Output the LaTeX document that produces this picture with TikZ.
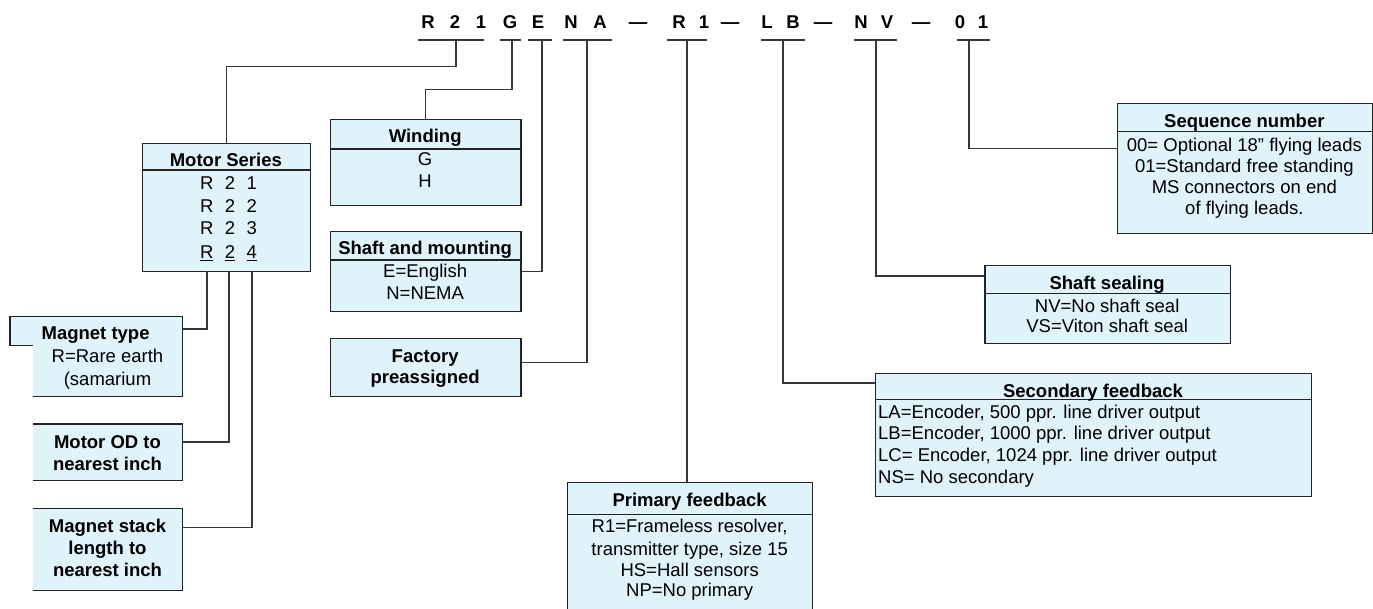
\documentclass[tikz,border=0pt]{standalone}
\usepackage{fontspec}
\setmainfont{Liberation Sans}
\usetikzlibrary{calc}
\definecolor{boxfill}{RGB}{224,242,250}
\definecolor{linec}{RGB}{55,55,55}
\definecolor{edgec}{RGB}{35,35,35}
\begin{document}
\begin{tikzpicture}[x=1pt,y=-1pt,
  boxbg/.style={fill=boxfill, draw=edgec, line width=1.2pt, inner sep=0pt, anchor=north west},
  boxfillonly/.style={fill=boxfill, draw=none, inner sep=0pt, anchor=north west},
  edge/.style={draw=edgec, line width=1.2pt},
  txt/.style={anchor=base, inner sep=0pt, font=\fontsize{18.5}{22}\selectfont},
  hdr/.style={anchor=base, inner sep=0pt, font=\fontsize{18.5}{22}\selectfont\bfseries},
  codech/.style={anchor=base, inner sep=0pt, font=\fontsize{18.5}{22}\selectfont\bfseries},
  conn/.style={draw=linec, line width=1.2pt},
  uline/.style={draw=linec, line width=1.2pt}]
\useasboundingbox (0,0) rectangle (1373,609);
\fill[white] (0,0) rectangle (1373,609);

% ---- code line ----
\node[codech] (c1) at (428,28.3) {R};
\node[codech] (c2) at (455,28.3) {2};
\node[codech] (c3) at (481,28.3) {1};
\node[codech] (c4) at (510,28.3) {G};
\node[codech] (c5) at (538,28.3) {E};
\node[codech] (c6) at (571,28.3) {N};
\node[codech] (c7) at (600,28.3) {A};
\node[codech] (d1) at (638,28.3) {—};
\node[codech] (c8) at (679,28.3) {R};
\node[codech] (c9) at (704,28.3) {1};
\node[codech] (d2) at (730,28.3) {—};
\node[codech] (c10) at (767,28.3) {L};
\node[codech] (c11) at (793,28.3) {B};
\node[codech] (d3) at (823,28.3) {—};
\node[codech] (c12) at (861,28.3) {N};
\node[codech] (c13) at (887,28.3) {V};
\node[codech] (d4) at (921,28.3) {—};
\node[codech] (c14) at (960,28.3) {0};
\node[codech] (c15) at (983,28.3) {1};

% underlines
\draw[uline] (418,40) -- (484,40);
\draw[uline] (500,40) -- (521,40);
\draw[uline] (528,40) -- (552,40);
\draw[uline] (563,40) -- (612,40);
\draw[uline] (667,40) -- (707,40);
\draw[uline] (761,40) -- (805,40);
\draw[uline] (854,40) -- (897,40);
\draw[uline] (957,40) -- (990,40);

\coordinate (t1) at (456,40);
\coordinate (t2) at (512,40);
\coordinate (t3) at (542,40);
\coordinate (t4) at (587,40);
\coordinate (t5) at (687,40);
\coordinate (t6) at (783,40);
\coordinate (t7) at (876,40);
\coordinate (t8) at (969,40);

% ---- Motor Series ----
\node[boxbg, minimum width=168.3pt, minimum height=127.7pt] (ms) at (141.7,143.3) {};
\draw[edge] (141.7,170) -- (310,170);
\node[hdr] (msh) at (225.85,167) {Motor Series};
\node[txt] (ms11) at (206.7,189.5) {R};
\node[txt] (ms12) at (230,189.5) {2};
\node[txt] (ms13) at (251.7,189.5) {1};
\node[txt] (ms21) at (206.7,212.5) {R};
\node[txt] (ms22) at (230,212.5) {2};
\node[txt] (ms23) at (251.7,212.5) {2};
\node[txt] (ms31) at (206.7,234.5) {R};
\node[txt] (ms32) at (230,234.5) {2};
\node[txt] (ms33) at (251.7,234.5) {3};
\node[txt] (ms41) at (206.7,258.5) {\underline{R}};
\node[txt] (ms42) at (230,258.5) {\underline{2}};
\node[txt] (ms43) at (251.7,258.5) {\underline{4}};
\coordinate (msb1) at (207,271);
\coordinate (msb2) at (229,271);
\coordinate (msb3) at (252,271);

% ---- Winding ----
\node[boxbg, minimum width=190.3pt, minimum height=86pt] (wd) at (330,119) {};
\draw[edge] (330,149) -- (520.3,149);
\node[hdr] (wdh) at (425.15,143) {Winding};
\node[txt] (wd1) at (425.15,165.5) {G};
\node[txt] (wd2) at (425.15,188) {H};

% ---- Shaft and mounting ----
\node[boxbg, minimum width=190.3pt, minimum height=80pt] (sm) at (330,231) {};
\draw[edge] (330,260) -- (522,260);
\node[hdr] (smh) at (425.15,254.5) {Shaft and mounting};
\node[txt] (sm1) at (425.15,277.5) {E=English};
\node[txt] (sm2) at (425.15,299.5) {N=NEMA};

% ---- Factory preassigned ----
\node[boxbg, minimum width=190.3pt, minimum height=57.4pt] (fp) at (330,338.3) {};
\node[hdr] (fp1) at (425.15,362.5) {Factory};
\node[hdr] (fp2) at (425.15,384) {preassigned};

% ---- Magnet type ----
\node[boxbg, minimum width=172.7pt, minimum height=29.3pt] (mth) at (9.3,315.7) {};
\node[boxfillonly, minimum width=149pt, minimum height=51pt] (mtb) at (33,345) {};
\draw[edge] (mtb.north east) -- (mtb.south east) -- (mtb.south west);
\node[hdr] (mthl) at (95.6,339.5) {Magnet type};
\node[txt] (mt1) at (107.5,362.5) {R=Rare earth};
\node[txt] (mt2) at (107.5,385) {(samarium};

% ---- Motor OD ----
\node[boxfillonly, minimum width=149pt, minimum height=56pt] (mo) at (33,424) {};
\draw[edge] (mo.north west) -- (mo.north east) -- (mo.south east) -- (mo.south west);
\node[hdr] (mo1) at (107.5,448) {Motor OD to};
\node[hdr] (mo2) at (107.5,470) {nearest inch};

% ---- Magnet stack ----
\node[boxfillonly, minimum width=149pt, minimum height=81.7pt] (mst) at (33,508.3) {};
\draw[edge] (mst.north west) -- (mst.north east) -- (mst.south east) -- (mst.south west);
\node[hdr] (mst1) at (107.5,532.5) {Magnet stack};
\node[hdr] (mst2) at (107.5,554.5) {length to};
\node[hdr] (mst3) at (107.5,576.5) {nearest inch};

% ---- Primary feedback ----
\node[boxfillonly, minimum width=244.7pt, minimum height=130pt] (pf) at (567.3,482.3) {};
\draw[edge] (pf.south west) -- (pf.north west) -- (pf.north east) -- (pf.south east);
\draw[edge] (567.3,514.3) -- (812,514.3);
\node[hdr] (pfh) at (689.65,506.5) {Primary feedback};
\node[txt] (pf1) at (689.65,532.5) {R1=Frameless resolver,};
\node[txt] (pf2) at (689.65,555) {transmitter type, size 15};
\node[txt] (pf3) at (689.65,576) {HS=Hall sensors};
\node[txt] (pf4) at (689.65,596.5) {NP=No primary};

% ---- Secondary feedback ----
\node[boxbg, minimum width=436pt, minimum height=122.7pt] (sf) at (875,373.3) {};
\draw[edge] (875,399.3) -- (1311,399.3);
\node[hdr] (sfh) at (1093,397) {Secondary feedback};
\node[txt, anchor=base west] (sf1) at (878,418) {LA=Encoder, 500 ppr. line driver output};
\node[txt, anchor=base west] (sf2) at (878,439.5) {LB=Encoder, 1000 ppr. line driver output};
\node[txt, anchor=base west] (sf3) at (878,461.5) {LC= Encoder, 1024 ppr. line driver output};
\node[txt, anchor=base west] (sf4) at (878,483) {NS= No secondary};

% ---- Shaft sealing ----
\node[boxbg, minimum width=245.7pt, minimum height=78pt] (ss) at (984.3,265) {};
\draw[edge] (984.3,293.3) -- (1230,293.3);
\node[hdr] (ssh) at (1107.15,290) {Shaft sealing};
\node[txt] (ss1) at (1107.15,313) {NV=No shaft seal};
\node[txt] (ss2) at (1107.15,333) {VS=Viton shaft seal};

% ---- Sequence number ----
\node[boxbg, minimum width=255.3pt, minimum height=130pt] (sq) at (1116.7,103.3) {};
\draw[edge] (1116.7,131.7) -- (1372,131.7);
\node[hdr] (sqh) at (1244.35,128) {Sequence number};
\node[txt] (sq1) at (1244.35,151.5) {00= Optional 18\char34\ flying leads};
\node[txt] (sq2) at (1244.35,173) {01=Standard free standing};
\node[txt] (sq3) at (1244.35,194) {MS connectors on end};
\node[txt] (sq4) at (1244.35,215) {of flying leads.};

% ---- connectors ----
\draw[conn] (t1) -- ++(0,26.7) -| (ms.north);
\draw[conn] (t2) -- ++(0,49.3) -| (wd.north);
\draw[conn] (t3) |- (sm.east);
\draw[conn] (t4) |- ([yshift=5.3pt]fp.east);
\draw[conn] (t5) -- (t5 |- pf.north);
\draw[conn] (t6) |- ($(sf.north west)+(0,9.7)$);
\draw[conn] (t7) |- ($(ss.north west)+(0,11)$);
\draw[conn] (t8) |- ($(sq.north west)+(0,45.2)$);
\draw[conn] (msb1) |- ([yshift=2pt]mth.east);
\draw[conn] (msb2) |- ([yshift=10.3pt]mo.east);
\draw[conn] (msb3) |- ([yshift=21.7pt]mst.east);
\end{tikzpicture}
\end{document}
